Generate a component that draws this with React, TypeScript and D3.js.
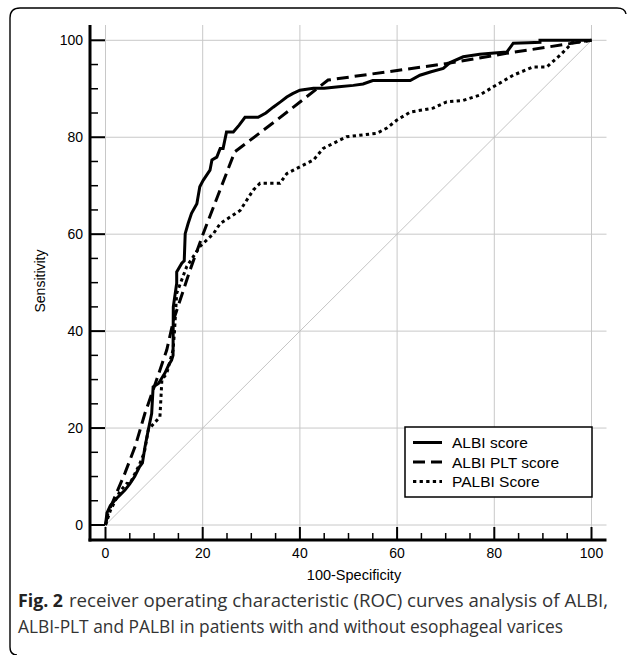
import React from "react";
import * as d3 from "d3";

// ROC points (100-Specificity, Sensitivity)
const albiX = [0, 0.3, 1, 2, 3, 4, 5, 6, 7, 7.6, 8.1, 8.8, 9.5, 9.8, 10.9, 12.2, 13, 13.6, 13.9, 13.95, 14.65, 14.65, 15.7, 16.2, 16.4, 17, 17.7, 18.8, 19.4, 20.1, 21.5, 21.9, 22.9, 23.6, 24.2, 24.9, 26.3, 27.5, 28.7, 31.4, 33, 34.5, 36, 37.3, 38.5, 40, 42.8, 45, 48, 51, 53, 55, 58, 62.7, 64.7, 67, 69.5, 70.9, 73.6, 77, 80, 82.6, 83.9, 87, 89.4, 89.4, 100];
const albiY = [0, 2.5, 4, 5.2, 6.2, 7.2, 8.5, 10, 12, 12.8, 16, 19.6, 23, 28.5, 29.2, 31.3, 33, 34, 35, 45, 49.9, 52.2, 54, 54.5, 60.1, 62.2, 64.3, 66.3, 69.8, 71.1, 73.2, 75.3, 75.9, 77.7, 77.7, 81.1, 81.1, 82.5, 84.1, 84.1, 85, 86.2, 87.3, 88.3, 89, 89.7, 90.1, 90.1, 90.4, 90.7, 91, 91.7, 91.7, 91.7, 92.8, 93.5, 94.2, 95.4, 96.6, 97.1, 97.4, 97.6, 99.4, 99.5, 99.6, 100, 100];

const pltX = [0, 0.5, 4, 6.1, 8.1, 10.5, 12.6, 14, 17.4, 20.1, 26.6, 35.2, 45.8, 70.2, 82.5, 100];
const pltY = [0, 2.4, 10.7, 16.2, 23, 29.9, 36.1, 42.3, 52.6, 60.1, 77, 83.5, 91.8, 95.2, 97.3, 100];

const palbiX = [0, 1, 2, 3, 4.4, 5, 6, 7, 8, 8.8, 10, 11.2, 11.6, 12.6, 13.9, 14.2, 14.65, 16.7, 19.4, 22.2, 23.6, 27.7, 30.4, 31.8, 35.9, 37.3, 40, 42.8, 44.8, 49.6, 55.8, 57.9, 59.9, 62.7, 67.4, 70.2, 73.6, 77, 79.8, 83.9, 88, 90.8, 93.5, 95.2, 96, 100];
const palbiY = [0, 3, 5, 7, 8.6, 8.5, 10.5, 12.5, 15, 19.6, 21, 22.3, 29.9, 31.3, 36.1, 40, 47.8, 53.3, 57.4, 60.1, 62.2, 64.9, 69.1, 70.5, 70.5, 72.5, 73.9, 75.3, 77.7, 80.1, 80.8, 81.9, 83.5, 85.2, 86, 87.3, 87.6, 88.7, 90.4, 92.8, 94.5, 94.5, 96.9, 98.6, 99.5, 100];

const majorTicks = [0, 20, 40, 60, 80, 100];
const minorTicks = [5, 10, 15, 25, 30, 35, 45, 50, 55, 65, 70, 75, 85, 90, 95];

const seriesNames = ["ALBI score", "ALBI PLT score", "PALBI Score"];
const dashes = ["none", "12,6", "3.3,3.3"];

const captionBold = "Fig. 2";
const captionLine1 = "receiver operating characteristic (ROC) curves analysis of ALBI,";
const captionLine2 = "ALBI-PLT and PALBI in patients with and without esophageal varices";

const W = 627;
const H = 655;
const font = "'Liberation Sans', Arial, sans-serif";
const capFont = "'Open Sans', sans-serif";

export default function App() {
  const x = d3.scaleLinear().domain([0, 100]).range([105.5, 591.5]);
  const y = d3.scaleLinear().domain([0, 100]).range([525, 40.3]);
  const axisX = 90;
  const axisY = 540;
  const top = 25;
  const right = 606.5;

  const line = d3
    .line<[number, number]>()
    .x((d) => x(d[0]))
    .y((d) => y(d[1]));

  const series = [
    albiX.map((v, i) => [v, albiY[i]] as [number, number]),
    pltX.map((v, i) => [v, pltY[i]] as [number, number]),
    palbiX.map((v, i) => [v, palbiY[i]] as [number, number]),
  ];

  const legend = { x: 405, y: 427, w: 187, h: 70 };

  return (
    <svg
      width={W}
      height={H}
      style={{ position: "absolute", left: 0, top: 0, background: "#fff" }}
    >
      {/* frame */}
      <path
        d="M17,655 Q10,655 10,647 L10,18 Q10,8 20,8 L617,8 Q625,8 626,14"
        fill="none"
        stroke="#000"
        strokeWidth={1.4}
      />

      {/* grid */}
      <g stroke="#c8c8c8" strokeWidth={1}>
        {majorTicks.map((t) => (
          <line key={"gx" + t} x1={x(t)} x2={x(t)} y1={top} y2={axisY} />
        ))}
        {majorTicks.map((t) => (
          <line key={"gy" + t} x1={axisX} x2={right} y1={y(t)} y2={y(t)} />
        ))}
      </g>
      <line x1={x(0)} y1={y(0)} x2={x(100)} y2={y(100)} stroke="#bdbdbd" strokeWidth={0.9} />

      {/* axes */}
      <g stroke="#000">
        <line x1={axisX} x2={axisX} y1={top} y2={axisY + 1.5} strokeWidth={3} />
        <line x1={axisX - 1.5} x2={right} y1={axisY} y2={axisY} strokeWidth={3} />
        {majorTicks.map((t) => (
          <line key={"my" + t} x1={axisX} x2={axisX + 15} y1={y(t)} y2={y(t)} strokeWidth={2} />
        ))}
        {minorTicks.map((t) => (
          <line key={"ny" + t} x1={axisX} x2={axisX + 8} y1={y(t)} y2={y(t)} strokeWidth={1.5} />
        ))}
        {majorTicks.map((t) => (
          <line key={"mx" + t} x1={x(t)} x2={x(t)} y1={axisY} y2={axisY - 13} strokeWidth={2} />
        ))}
        {minorTicks.map((t) => (
          <line key={"nx" + t} x1={x(t)} x2={x(t)} y1={axisY} y2={axisY - 7} strokeWidth={1.5} />
        ))}
      </g>

      {/* tick labels */}
      <g fontFamily={font} fontSize={14} fill="#000">
        {majorTicks.map((t) => (
          <text key={"ly" + t} x={83} y={y(t) + 5} textAnchor="end">
            {t}
          </text>
        ))}
        {majorTicks.map((t) => (
          <text key={"lx" + t} x={x(t)} y={558} textAnchor="middle">
            {t}
          </text>
        ))}
      </g>

      {/* axis titles */}
      <text x={354} y={580} textAnchor="middle" fontFamily={font} fontSize={14.5}>
        100-Specificity
      </text>
      <text
        transform="translate(45,281) rotate(-90)"
        textAnchor="middle"
        fontFamily={font}
        fontSize={14}
      >
        Sensitivity
      </text>

      {/* curves */}
      {series.map((s, i) => (
        <path
          key={"s" + i}
          d={line(s) || ""}
          fill="none"
          stroke="#000"
          strokeWidth={3}
          strokeDasharray={dashes[i]}
          strokeLinejoin="miter"
        />
      ))}

      {/* legend */}
      <rect
        x={legend.x}
        y={legend.y}
        width={legend.w}
        height={legend.h}
        fill="#fff"
        stroke="#000"
        strokeWidth={1.5}
      />
      {seriesNames.map((n, i) => {
        const ly = legend.y + 15.5 + i * 19.5;
        return (
          <g key={n}>
            <line
              x1={413}
              x2={442}
              y1={ly}
              y2={ly}
              stroke="#000"
              strokeWidth={3}
              strokeDasharray={dashes[i]}
            />
            <text x={452} y={ly + 5.5} fontFamily={font} fontSize={15.5}>
              {n}
            </text>
          </g>
        );
      })}

      {/* caption */}
      <text
        x={18}
        y={607}
        fontFamily={capFont}
        fontSize={18.5}
        fontWeight="bold"
        fill="#222"
        textLength={45}
        lengthAdjust="spacingAndGlyphs"
      >
        {captionBold}
      </text>
      <text
        x={69}
        y={607}
        fontFamily={capFont}
        fontSize={18.5}
        fill="#333"
        textLength={539}
        lengthAdjust="spacingAndGlyphs"
      >
        {captionLine1}
      </text>
      <text
        x={18}
        y={633}
        fontFamily={capFont}
        fontSize={18.5}
        fill="#333"
        textLength={545}
        lengthAdjust="spacingAndGlyphs"
      >
        {captionLine2}
      </text>
    </svg>
  );
}
